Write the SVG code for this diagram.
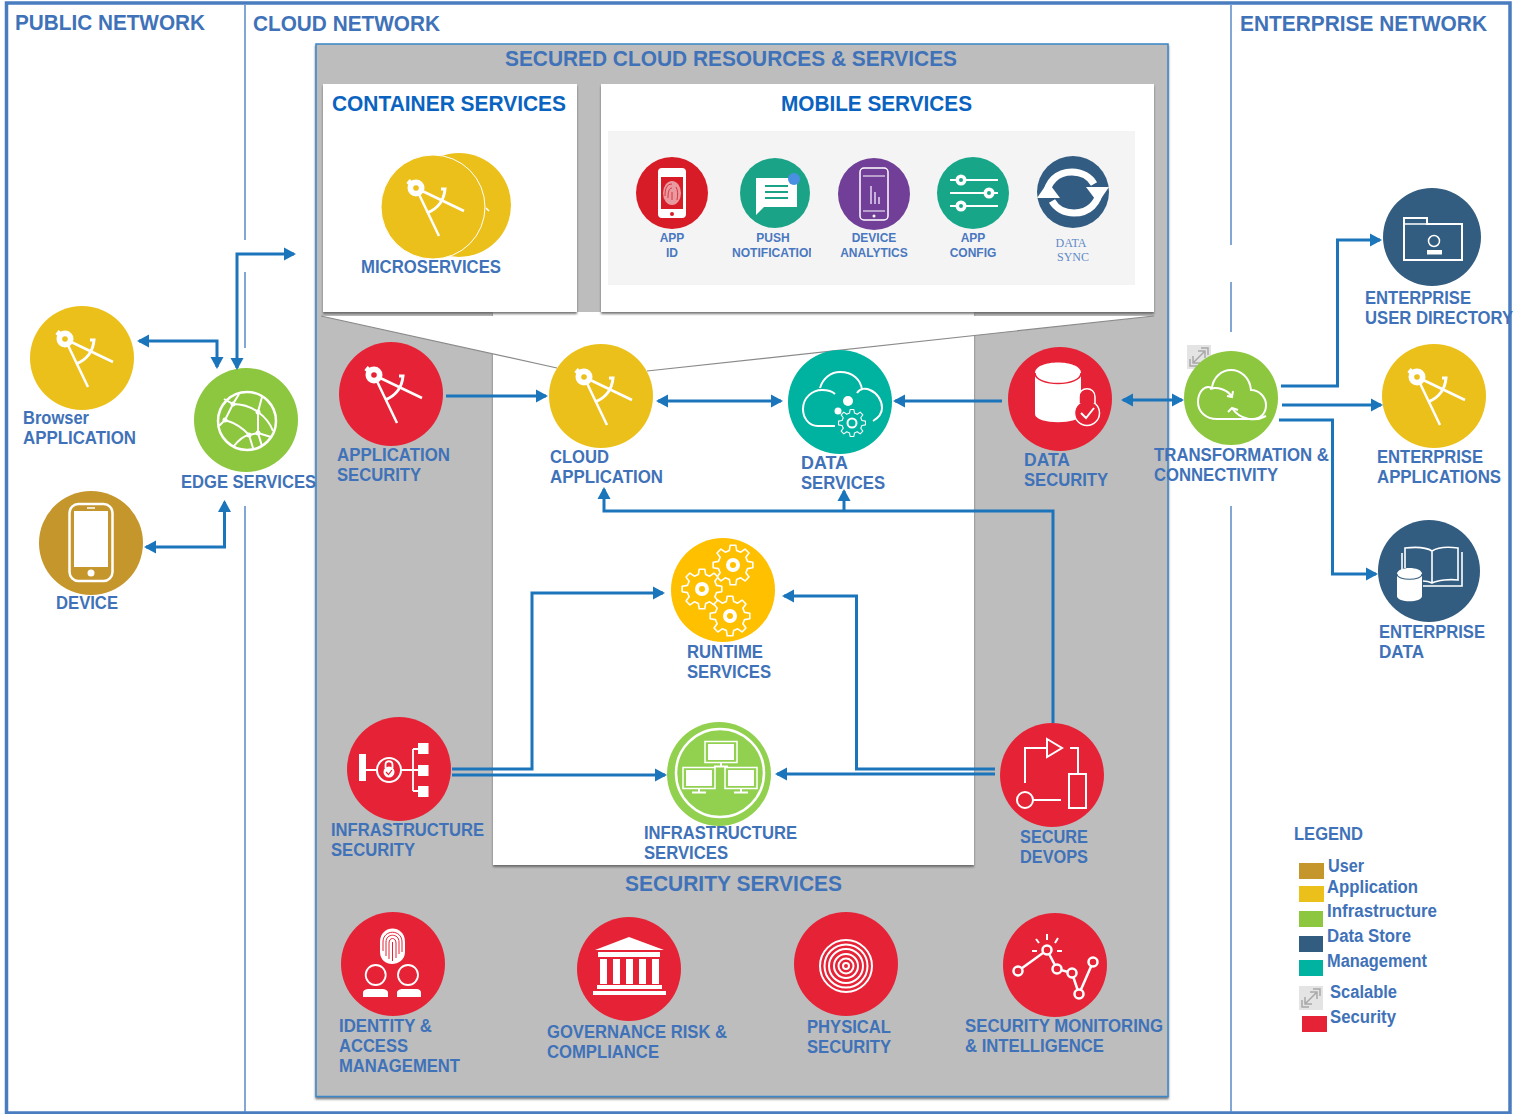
<svg xmlns="http://www.w3.org/2000/svg" xmlns:xlink="http://www.w3.org/1999/xlink" width="1522" height="1114" viewBox="0 0 1522 1114">
<style>
text{font-family:"Liberation Sans",Arial,sans-serif;font-weight:700;fill:#3f72b8}
.l{font-size:18px}
.t{font-size:22px}
.h{font-size:22px;fill:#0a63c0}
.m{font-size:12px;fill:#4a78c0;text-anchor:middle}
.s{font-family:"Liberation Serif",serif;font-weight:400;font-size:12px;fill:#5f8ac8;text-anchor:middle}
.w{fill:none;stroke:#fff;stroke-width:2.5}
.f{fill:#fff;stroke:none}
.c{fill:none;stroke:#1b75bb;stroke-width:3}
.a{marker-end:url(#arr)}
.b{marker-start:url(#arr);marker-end:url(#arr)}
.div{stroke:#5a8ac6;stroke-width:1.5;fill:none}
</style>
<defs>
<marker id="arr" markerUnits="userSpaceOnUse" markerWidth="14" markerHeight="14" refX="10" refY="7" orient="auto-start-reverse"><path d="M0,0.5L12,7L0,13.5z" fill="#1b75bb"/></marker>
<filter id="sh" x="-3%" y="-3%" width="106%" height="106%"><feDropShadow dx="0" dy="2" stdDeviation="1" flood-color="#555" flood-opacity=".8"/></filter>
<clipPath id="nc"><rect x="726" y="240" width="85" height="24"/></clipPath>
<g id="compass">
<path d="M-17,-19L6,29M-17,-19L31,4" fill="none" stroke="#fff" stroke-width="2.500"/>
<path d="M8,-18H12C11,-6 4,2 -6,6" fill="none" stroke="#fff" stroke-width="3"/>
<path d="M-17,-19L-25,-26" stroke="#fff" stroke-width="5"/>
<circle cx="-17" cy="-19" r="8.500" fill="#fff"/>
<circle cx="-17" cy="-19" r="2.800" fill="var(--bg)"/>
</g>
<polygon id="gear" points="19.81,2.78 14.55,3.63 12.86,7.73 15.97,12.04 12.04,15.97 7.73,12.86 3.63,14.55 2.78,19.81 -2.78,19.81 -3.63,14.55 -7.73,12.86 -12.04,15.97 -15.97,12.04 -12.86,7.73 -14.55,3.63 -19.81,2.78 -19.81,-2.78 -14.55,-3.63 -12.86,-7.73 -15.97,-12.04 -12.04,-15.97 -7.73,-12.86 -3.63,-14.55 -2.78,-19.81 2.78,-19.81 3.63,-14.55 7.73,-12.86 12.04,-15.97 15.97,-12.04 12.86,-7.73 14.55,-3.63 19.81,-2.78" stroke="#fff" stroke-width="1.600" stroke-linejoin="round"/>
<g id="scale"><rect x="-12" y="-12" width="24" height="24" fill="#e4e4e4"/><path d="M-5,5L5,-5M-1,-6H6V1M1,6H-6V-1M-9,2V9H-2M9,-2V-9H2" fill="none" stroke="#a8a8a8" stroke-width="1.500"/></g>
<g id="mon"><rect x="-16" y="-10.500" width="32" height="21" fill="none" stroke="#fff" stroke-width="1.500"/><rect x="-13" y="-8" width="26" height="16" fill="#fff"/><path d="M0,10V14M-7,14.500H7" stroke="#fff" stroke-width="2" fill="none"/></g>
</defs>

<rect x="0" y="0" width="1522" height="1114" fill="#fff"/>
<rect x="6.500" y="3" width="1503.500" height="1110" fill="none" stroke="#4a7cc0" stroke-width="3.500"/>
<g id="dividers">
<path class="div" d="M245,5V240M245,272V348M245,506V1112M1231,5V245M1231,282V332M1231,506V1112"/>
</g>
<text class="t" x="15" y="30" textLength="190" lengthAdjust="spacingAndGlyphs">PUBLIC NETWORK</text>
<text class="t" x="253" y="31" textLength="187" lengthAdjust="spacingAndGlyphs">CLOUD NETWORK</text>
<text class="t" x="1240" y="31" textLength="247" lengthAdjust="spacingAndGlyphs">ENTERPRISE NETWORK</text>

<g id="panels">
<rect x="316" y="44" width="852" height="1052.500" fill="#bdbdbd" stroke="#3a87c8" stroke-width="1.500" filter="url(#sh)"/>
<text class="t" x="505" y="66" textLength="452" lengthAdjust="spacingAndGlyphs">SECURED CLOUD RESOURCES &amp; SERVICES</text>
<rect x="493" y="312" width="481" height="553" fill="#fff" filter="url(#sh)"/>
<polygon points="321,316 1154,316 647,371 557,368" fill="#fff"/>
<path d="M321,316L557,368M1154,316L647,371" fill="none" stroke="#8a8a8a" stroke-width="1.200"/>
<rect x="323" y="84" width="254" height="228" fill="#fff" filter="url(#sh)"/>
<rect x="601" y="84" width="553" height="228" fill="#fff" filter="url(#sh)"/>
<text class="h" x="332" y="111" textLength="234" lengthAdjust="spacingAndGlyphs">CONTAINER SERVICES</text>
<text class="h" x="781" y="111" textLength="191" lengthAdjust="spacingAndGlyphs">MOBILE SERVICES</text>
<rect x="608" y="131" width="527" height="154" fill="#f4f4f4"/>
<text class="t" x="625" y="891" textLength="217" lengthAdjust="spacingAndGlyphs">SECURITY SERVICES</text>
</g>

<g id="microservices" style="--bg:#ecc01b">
<circle cx="459" cy="205" r="52" fill="#ecc01b"/>
<circle cx="433" cy="207" r="52" fill="#ecc01b" stroke="#fff" stroke-width="1"/>
<use xlink:href="#compass" href="#compass" transform="translate(433,207)"/>
<path d="M486,208L489,211" stroke="#fff" stroke-width="1.500"/>
<text class="l" x="361" y="273" textLength="140" lengthAdjust="spacingAndGlyphs">MICROSERVICES</text>
</g>

<g id="app-id">
<circle cx="672" cy="193" r="36" fill="#d71c27"/>
<rect x="658" y="168" width="28" height="50" rx="4" fill="#fff"/>
<rect x="661" y="177" width="22" height="32" fill="#d71c27"/>
<ellipse cx="672" cy="193" rx="9" ry="12" fill="#e89aa0"/>
<path d="M672,184C666,184 665,190 665,196M672,188C669,188 668,192 668,198M672,192V200M676,187C678,190 678,195 677,200" fill="none" stroke="#d71c27" stroke-width=".8"/>
<circle cx="672" cy="214" r="2" fill="#d71c27"/>
<text class="m" x="672" y="242">APP</text><text class="m" x="672" y="257">ID</text>
</g>
<g id="push-notification">
<circle cx="775" cy="193" r="35" fill="#1aa386"/>
<path d="M756,178H797V207H764L756,215z" fill="#fff"/>
<path d="M765,186H788M765,192H788M765,198H788" stroke="#1aa386" stroke-width="2" fill="none"/>
<circle cx="794" cy="179" r="6" fill="#4a90e2"/>
<text class="m" x="773" y="242">PUSH</text>
<text class="m" x="732" y="257" clip-path="url(#nc)" style="text-anchor:start" textLength="85" lengthAdjust="spacingAndGlyphs">NOTIFICATION</text>
</g>
<g id="device-analytics">
<circle cx="874" cy="194" r="36" fill="#723f98"/>
<rect x="860" y="168" width="28" height="52" rx="4" fill="none" stroke="#fff" stroke-width="1.500"/>
<path d="M863,176H885M863,211H885" stroke="#fff" stroke-width="1"/>
<path d="M871,204V186M875,204V192M879,204V197" stroke="#c8b0dc" stroke-width="2"/>
<circle cx="874" cy="216" r="1.500" fill="#fff"/>
<text class="m" x="874" y="242">DEVICE</text><text class="m" x="874" y="257">ANALYTICS</text>
</g>
<g id="app-config">
<circle cx="973" cy="193" r="36" fill="#18a689"/>
<path d="M950,180H998M950,193H998M950,206H998" stroke="#fff" stroke-width="2"/>
<circle cx="961" cy="180" r="5.500" fill="#fff"/><circle cx="961" cy="180" r="2" fill="#18a689"/>
<circle cx="989" cy="193" r="5.500" fill="#fff"/><circle cx="989" cy="193" r="2" fill="#18a689"/>
<circle cx="961" cy="206" r="5.500" fill="#fff"/><circle cx="961" cy="206" r="2" fill="#18a689"/>
<text class="m" x="973" y="242">APP</text><text class="m" x="973" y="257">CONFIG</text>
</g>
<g id="data-sync">
<circle cx="1073" cy="192" r="36" fill="#335c82"/>
<path d="M1046,197C1047,182 1057,172 1072,172C1082,172 1090,177 1094,184" fill="none" stroke="#fff" stroke-width="7"/>
<path d="M1100,188C1099,203 1089,213 1074,213C1064,213 1056,208 1052,201" fill="none" stroke="#fff" stroke-width="7"/>
<path d="M1086,187H1109L1098,203zM1060,198H1037L1048,182z" fill="#fff"/>
<text class="s" x="1071" y="247">DATA</text><text class="s" x="1073" y="261">SYNC</text>
</g>

<g id="browser-application" style="--bg:#ecc01b">
<circle cx="82" cy="358" r="52" fill="#ecc01b"/>
<use xlink:href="#compass" href="#compass" transform="translate(82,358)"/>
<text class="l" x="23" y="424" textLength="66" lengthAdjust="spacingAndGlyphs">Browser</text>
<text class="l" x="23" y="444" textLength="113" lengthAdjust="spacingAndGlyphs">APPLICATION</text>
</g>
<g id="device">
<circle cx="91" cy="543" r="52" fill="#c4962c"/>
<rect x="69.500" y="504" width="43" height="77" rx="9" class="w"/>
<rect x="74" y="511" width="34" height="56" class="f"/>
<circle cx="91" cy="573" r="3.500" class="f"/>
<path d="M87,508H95" stroke="#fff" stroke-width="1.500"/>
<text class="l" x="56" y="609" textLength="62" lengthAdjust="spacingAndGlyphs">DEVICE</text>
</g>
<g id="edge-services">
<circle cx="246" cy="420" r="52" fill="#8dc63f"/>
<circle cx="247" cy="421" r="29" class="w"/>
<path d="M224,399L233,404C242,404 251,407 258,412C265,417 270,423 273,431M239,394L233,404L225,420L219,426M262,397L258,412L258,433L262,446M225,420C235,423 243,428 249,435L253,448M258,433L271,437M249,435C242,436 237,442 233,447M249,435L258,433" fill="none" stroke="#fff" stroke-width="2"/>
<g class="f"><circle cx="233" cy="404" r="2.500"/><circle cx="258" cy="412" r="2.500"/><circle cx="225" cy="420" r="2.500"/><circle cx="249" cy="435" r="2.500"/><circle cx="258" cy="433" r="2.500"/></g>
<text class="l" x="181" y="488" textLength="135" lengthAdjust="spacingAndGlyphs">EDGE SERVICES</text>
</g>
<g id="application-security" style="--bg:#e62336">
<circle cx="391" cy="394" r="52" fill="#e62336"/>
<use xlink:href="#compass" href="#compass" transform="translate(391,394)"/>
<text class="l" x="337" y="461" textLength="113" lengthAdjust="spacingAndGlyphs">APPLICATION</text>
<text class="l" x="337" y="481" textLength="84" lengthAdjust="spacingAndGlyphs">SECURITY</text>
</g>
<g id="cloud-application" style="--bg:#ecc01b">
<circle cx="601" cy="396" r="52" fill="#ecc01b"/>
<use xlink:href="#compass" href="#compass" transform="translate(601,396)"/>
<text class="l" x="550" y="463" textLength="59" lengthAdjust="spacingAndGlyphs">CLOUD</text>
<text class="l" x="550" y="483" textLength="113" lengthAdjust="spacingAndGlyphs">APPLICATION</text>
</g>
<g id="data-services">
<circle cx="840" cy="402" r="52" fill="#00b2a0"/>
<path d="M835,426H818C808,426 803,417 803,409C803,398 812,390 822,390C829,390 833,392 835,394M820,388C823,378 831,372 840,372C853,372 861,380 862,390M857,393C860,388 866,388 870,390C877,393 882,400 882,408C882,413 878,418 873,421" fill="none" stroke="#fff" stroke-width="2"/>
<use xlink:href="#gear" href="#gear" transform="translate(852,423) scale(.68)" fill="#00b2a0" style="stroke-width:3.500"/>
<circle cx="852" cy="423" r="4.500" fill="none" stroke="#fff" stroke-width="2"/>
<circle cx="848" cy="401" r="5" class="f"/><circle cx="838" cy="411" r="3.500" class="f"/>
<text class="l" x="801" y="469" textLength="47" lengthAdjust="spacingAndGlyphs">DATA</text>
<text class="l" x="801" y="489" textLength="84" lengthAdjust="spacingAndGlyphs">SERVICES</text>
</g>
<g id="data-security">
<circle cx="1060" cy="399" r="52" fill="#e62336"/>
<path d="M1035,373C1035,359 1081,359 1081,373V414C1081,425 1035,425 1035,414z" class="f"/>
<path d="M1035,373C1035,387 1081,387 1081,373" fill="none" stroke="#e62336" stroke-width="1.500"/>
<circle cx="1087" cy="413" r="12.500" fill="#e62336" stroke="#fff" stroke-width="1.500"/>
<path d="M1079,403V397C1079,386 1095,386 1095,397V403" fill="#e62336" stroke="#fff" stroke-width="1.500"/>
<path d="M1081,413L1086,418L1094,408" fill="none" stroke="#fff" stroke-width="2"/>
<text class="l" x="1024" y="466" textLength="46" lengthAdjust="spacingAndGlyphs">DATA</text>
<text class="l" x="1024" y="486" textLength="84" lengthAdjust="spacingAndGlyphs">SECURITY</text>
</g>
<g id="transformation">
<use xlink:href="#scale" href="#scale" transform="translate(1199,357)"/>
<circle cx="1231" cy="398" r="47" fill="#8dc63f"/>
<path d="M1217,419H1253C1261,419 1266,413 1266,405C1266,397 1259,390 1251,390C1250,378 1241,370 1231,370C1221,370 1213,378 1212,388C1204,384 1198,393 1198,402C1198,412 1206,419 1217,419z" fill="none" stroke="#fff" stroke-width="2"/>
<path d="M1210,389C1217,386 1228,390 1232,397M1227,396L1232,397L1233,391M1266,416C1255,422 1240,420 1232,408M1228,412L1232,408L1238,410" fill="none" stroke="#fff" stroke-width="2"/>
<text class="l" x="1154" y="461" textLength="175" lengthAdjust="spacingAndGlyphs">TRANSFORMATION &amp;</text>
<text class="l" x="1154" y="481" textLength="124" lengthAdjust="spacingAndGlyphs">CONNECTIVITY</text>
</g>
<g id="enterprise-user-directory">
<circle cx="1432" cy="237" r="49" fill="#325c80"/>
<path d="M1404,218H1427V224H1462V260H1404z" class="w" style="stroke-width:2"/>
<path d="M1404,224H1427" stroke="#fff" stroke-width="1.500"/>
<circle cx="1434" cy="241" r="5.500" fill="none" stroke="#fff" stroke-width="1.500"/>
<rect x="1427" y="250" width="15" height="4.500" class="f"/>
<text class="l" x="1365" y="304" textLength="106" lengthAdjust="spacingAndGlyphs">ENTERPRISE</text>
<text class="l" x="1365" y="324" textLength="148" lengthAdjust="spacingAndGlyphs">USER DIRECTORY</text>
</g>
<g id="enterprise-applications" style="--bg:#ecc01b">
<circle cx="1434" cy="396" r="52" fill="#ecc01b"/>
<use xlink:href="#compass" href="#compass" transform="translate(1434,396)"/>
<text class="l" x="1377" y="463" textLength="106" lengthAdjust="spacingAndGlyphs">ENTERPRISE</text>
<text class="l" x="1377" y="483" textLength="124" lengthAdjust="spacingAndGlyphs">APPLICATIONS</text>
</g>
<g id="enterprise-data">
<circle cx="1429" cy="571" r="51" fill="#325c80"/>
<path d="M1405,568V548C1414,547 1426,547 1432,551C1438,547 1450,547 1458,548V580C1450,579 1438,580 1432,583C1428,581 1425,581 1423,581M1432,551V583M1402,570V553M1462,552V586H1423" fill="none" stroke="#fff" stroke-width="1.600"/>
<path d="M1397,574C1397,566 1422,566 1422,574V596C1422,603 1397,603 1397,596z" class="f"/>
<path d="M1397,574C1397,581 1422,581 1422,574" fill="none" stroke="#325c80" stroke-width="1.200"/>
<text class="l" x="1379" y="638" textLength="106" lengthAdjust="spacingAndGlyphs">ENTERPRISE</text>
<text class="l" x="1379" y="658" textLength="45" lengthAdjust="spacingAndGlyphs">DATA</text>
</g>
<g id="runtime-services">
<circle cx="723" cy="590" r="52" fill="#ffc000"/>
<g fill="#ffc000">
<use xlink:href="#gear" href="#gear" transform="translate(733,565)"/>
<use xlink:href="#gear" href="#gear" transform="translate(702,589)"/>
<use xlink:href="#gear" href="#gear" transform="translate(730,616)"/>
</g>
<g fill="#fff"><circle cx="733" cy="565" r="7"/><circle cx="702" cy="589" r="7"/><circle cx="730" cy="616" r="7"/></g>
<g fill="#ffc000"><circle cx="733" cy="565" r="3"/><circle cx="702" cy="589" r="3"/><circle cx="730" cy="616" r="3"/></g>
<text class="l" x="687" y="658" textLength="76" lengthAdjust="spacingAndGlyphs">RUNTIME</text>
<text class="l" x="687" y="678" textLength="84" lengthAdjust="spacingAndGlyphs">SERVICES</text>
</g>
<g id="infrastructure-security">
<circle cx="399" cy="769" r="52" fill="#e62336"/>
<rect x="359" y="754" width="7" height="27" class="f"/>
<path d="M366,770H377M401,770H413M413,749V791M413,749H418M413,770H418M413,791H418" stroke="#fff" stroke-width="1.800" fill="none"/>
<circle cx="389" cy="770" r="12" class="w" style="stroke-width:2"/>
<path d="M385.500,768V765C385.500,760 392.500,760 392.500,765V768" fill="none" stroke="#fff" stroke-width="1.800"/>
<circle cx="389" cy="772" r="5.500" class="f"/>
<path d="M386,772L388.500,774.500L392,770" fill="none" stroke="#e62336" stroke-width="1.200"/>
<rect x="418" y="743" width="10.500" height="11" class="f"/><rect x="418" y="765" width="10.500" height="11" class="f"/><rect x="418" y="786" width="10.500" height="11" class="f"/>
<text class="l" x="331" y="836" textLength="153" lengthAdjust="spacingAndGlyphs">INFRASTRUCTURE</text>
<text class="l" x="331" y="856" textLength="84" lengthAdjust="spacingAndGlyphs">SECURITY</text>
</g>
<g id="infrastructure-services">
<circle cx="719" cy="774" r="52" fill="#92d050"/>
<circle cx="720" cy="773" r="44" class="w"/>
<use xlink:href="#mon" href="#mon" transform="translate(721,752)"/>
<use xlink:href="#mon" href="#mon" transform="translate(699,778)"/>
<use xlink:href="#mon" href="#mon" transform="translate(741,778)"/>
<text class="l" x="644" y="839" textLength="153" lengthAdjust="spacingAndGlyphs">INFRASTRUCTURE</text>
<text class="l" x="644" y="859" textLength="84" lengthAdjust="spacingAndGlyphs">SERVICES</text>
</g>
<g id="secure-devops">
<circle cx="1052" cy="775" r="52" fill="#e62336"/>
<path d="M1025,783V748H1047M1047,739L1062,748L1047,757zM1070,748H1078V774M1033,800H1061" fill="none" stroke="#fff" stroke-width="2"/>
<rect x="1069" y="774" width="17" height="34" fill="none" stroke="#fff" stroke-width="2"/>
<circle cx="1025" cy="800" r="8" fill="none" stroke="#fff" stroke-width="2"/>
<text class="l" x="1020" y="843" textLength="68" lengthAdjust="spacingAndGlyphs">SECURE</text>
<text class="l" x="1020" y="863" textLength="68" lengthAdjust="spacingAndGlyphs">DEVOPS</text>
</g>
<g id="identity-access">
<circle cx="393" cy="964" r="52" fill="#e62336"/>
<path d="M380,942C380,924 405,924 405,942V952C405,960 398,964 392,964C386,964 380,960 380,952z" class="f"/>
<g fill="none" stroke="#e62336" stroke-width="1">
<path d="M383,951V942C383,929 402,929 402,942V952"/>
<path d="M386,956V942C386,933 399,933 399,942V954"/>
<path d="M389,959V943C389,937 396,937 396,943V958"/>
<path d="M392.500,961V942"/>
</g>
<circle cx="375.700" cy="975" r="10" class="w" style="stroke-width:1.800"/>
<circle cx="408" cy="975" r="10" class="w" style="stroke-width:1.800"/>
<path d="M363,997V993C363,990 366,989 369,989H382C385,989 388,990 388,993V997zM397,997V993C397,990 400,989 403,989H416C419,989 421,990 421,993V997z" class="f"/>
<text class="l" x="339" y="1032" textLength="93" lengthAdjust="spacingAndGlyphs">IDENTITY &amp;</text>
<text class="l" x="339" y="1052" textLength="69" lengthAdjust="spacingAndGlyphs">ACCESS</text>
<text class="l" x="339" y="1072" textLength="121" lengthAdjust="spacingAndGlyphs">MANAGEMENT</text>
</g>
<g id="governance">
<circle cx="629" cy="969" r="52" fill="#e62336"/>
<path d="M629,937L664,950H595z" class="f"/>
<rect x="598" y="952" width="62" height="5" class="f"/>
<rect x="600" y="959" width="7" height="25" class="f"/><rect x="613" y="959" width="7" height="25" class="f"/><rect x="626" y="959" width="7" height="25" class="f"/><rect x="639" y="959" width="7" height="25" class="f"/><rect x="652" y="959" width="7" height="25" class="f"/>
<rect x="597" y="985" width="65" height="4" class="f"/><rect x="593" y="991" width="73" height="4" class="f"/>
<text class="l" x="547" y="1038" textLength="180" lengthAdjust="spacingAndGlyphs">GOVERNANCE RISK &amp;</text>
<text class="l" x="547" y="1058" textLength="112" lengthAdjust="spacingAndGlyphs">COMPLIANCE</text>
</g>
<g id="physical-security">
<circle cx="846" cy="964" r="52" fill="#e62336"/>
<g fill="none" stroke="#fff" stroke-width="2">
<circle cx="846" cy="966" r="26"/><circle cx="846" cy="966" r="21.500"/><circle cx="846" cy="966" r="17"/><circle cx="846" cy="966" r="12"/><circle cx="846" cy="966" r="7.500"/><circle cx="846" cy="966" r="3"/>
</g>
<text class="l" x="807" y="1033" textLength="84" lengthAdjust="spacingAndGlyphs">PHYSICAL</text>
<text class="l" x="807" y="1053" textLength="84" lengthAdjust="spacingAndGlyphs">SECURITY</text>
</g>
<g id="security-monitoring">
<circle cx="1055" cy="965" r="52" fill="#e62336"/>
<path d="M1018,971L1047,950L1057,969L1072,973L1079,994L1093,962" fill="none" stroke="#fff" stroke-width="2.500"/>
<g fill="#e62336" stroke="#fff" stroke-width="2.500">
<circle cx="1018" cy="971" r="4.500"/><circle cx="1047" cy="950" r="4.500"/><circle cx="1057" cy="969" r="4.500"/><circle cx="1072" cy="973" r="4.500"/><circle cx="1079" cy="994" r="4.500"/><circle cx="1093" cy="962" r="4.500"/>
</g>
<path d="M1047,934V940M1036,939L1039,943M1058,938L1055,943M1032,951H1037M1057,951H1062" stroke="#fff" stroke-width="2"/>
<text class="l" x="965" y="1032" textLength="198" lengthAdjust="spacingAndGlyphs">SECURITY MONITORING</text>
<text class="l" x="965" y="1052" textLength="139" lengthAdjust="spacingAndGlyphs">&amp; INTELLIGENCE</text>
</g>

<g id="legend">
<text class="l" x="1294" y="840" textLength="69" lengthAdjust="spacingAndGlyphs">LEGEND</text>
<rect x="1299" y="863" width="25" height="16" fill="#c4962c"/><text class="l" x="1328" y="872" textLength="36" lengthAdjust="spacingAndGlyphs">User</text>
<rect x="1299" y="886" width="25" height="16" fill="#ecc01b"/><text class="l" x="1327" y="893" textLength="91" lengthAdjust="spacingAndGlyphs">Application</text>
<rect x="1299" y="911" width="24" height="16" fill="#8dc63f"/><text class="l" x="1327" y="917" textLength="110" lengthAdjust="spacingAndGlyphs">Infrastructure</text>
<rect x="1299" y="936" width="24" height="16" fill="#325c80"/><text class="l" x="1327" y="942" textLength="84" lengthAdjust="spacingAndGlyphs">Data Store</text>
<rect x="1299" y="960" width="24" height="16" fill="#00b2a0"/><text class="l" x="1327" y="967" textLength="100" lengthAdjust="spacingAndGlyphs">Management</text>
<use xlink:href="#scale" href="#scale" transform="translate(1311,998)"/><text class="l" x="1330" y="998" textLength="67" lengthAdjust="spacingAndGlyphs">Scalable</text>
<rect x="1302" y="1016" width="25" height="16" fill="#e62336"/><text class="l" x="1330" y="1023" textLength="66" lengthAdjust="spacingAndGlyphs">Security</text>
</g>

<g id="connectors">
<path class="c b" d="M139,341H217V367"/>
<path class="c b" d="M237,368V254H294"/>
<path class="c b" d="M146,547H224.500V502"/>
<path class="c a" d="M446,396H546"/>
<path class="c b" d="M658,401H781"/>
<path class="c a" d="M1002,401H895"/>
<path class="c b" d="M1123,400H1182"/>
<path class="c a" d="M1281,386H1337.500V240H1380"/>
<path class="c a" d="M1282,405H1381"/>
<path class="c a" d="M1279,420H1332.500V574H1376"/>
<path class="c a" d="M1053,723V511H604V489"/>
<path class="c a" d="M844,511V491"/>
<path class="c a" d="M452,769H532V593H663"/>
<path class="c a" d="M452,775H665"/>
<path class="c a" d="M995,769H856.500V596H784"/>
<path class="c a" d="M995,774H777"/>
</g>
</svg>
